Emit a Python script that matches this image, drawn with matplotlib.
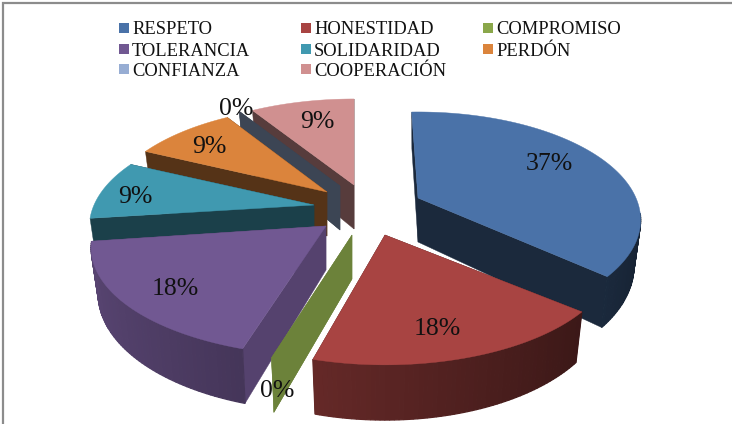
import numpy as np
import matplotlib
matplotlib.use("Agg")
import matplotlib.pyplot as plt
from matplotlib.patches import Rectangle

categories = ["RESPETO", "HONESTIDAD", "COMPROMISO", "TOLERANCIA",
              "SOLIDARIDAD", "PERDÓN", "CONFIANZA", "COOPERACIÓN"]
values = [37, 18, 0, 18, 9, 9, 0, 9]
colors = ["#4A72A8", "#A84442", "#8AA74A", "#715892",
          "#4099B0", "#DB843C", "#97ADD3", "#D09090"]

# layout / style constants
apex_offset = [(68, -7), (35, 30), (2, 30), (-24, 21),
               (-36, 0), (-23, -13), (-10, -19), (4, -20)]   # slice explosion, px
CENTER = (350, 205)
rim_rx = [218, 224, 222, 230, 220, 218, 220, 222]
slice_rot = [-2, -3, -1, -1, 0, 0, 0, 0]
wall_shade = [.36, .45, .78, .75, .42, .39, .40, .42]
draw_order = [7, 6, 5, 4, 3, 0, 2, 1]
label_pos = [(549, 164), (437, 329), (277, 391), (175, 289),
             (135, 197), (209, 147), (236, 109), (317, 122)]
RY, P, DEPTH, BOTTOM_SCALE = 103.5, .203, 44, .97

plt.rcParams["font.family"] = ["Liberation Serif", "DejaVu Serif"]
fig = plt.figure(figsize=(7.32, 4.24), dpi=100)
ax = fig.add_axes([0, 0, 1, 1])
ax.set_xlim(0, 732)
ax.set_ylim(424, 0)
ax.axis("off")


def proj(theta, rx):
    """Project outer-rim angles (degrees, clockwise from the back) to pixel offsets."""
    t = np.radians(theta)
    X, Y = np.sin(t), np.cos(t)
    w = 1 / (1 + P * Y)
    return rx * X * w, -RY * Y * w, w, X, Y


def shade(c, s):
    return tuple(min(1, v * s) for v in matplotlib.colors.to_rgb(c))


edges = np.concatenate([[0], np.cumsum(values)]) * 3.6
for i in draw_order:
    a0, a1 = edges[i] + slice_rot[i], edges[i + 1] + slice_rot[i]
    ax0, ay0 = CENTER[0] + apex_offset[i][0], CENTER[1] + apex_offset[i][1]
    c = colors[i]
    z = 2 + draw_order.index(i)
    th = np.linspace(a0, a1, max(2, int(a1 - a0) + 2))
    sx, sy, w, X, Y = proj(th, rim_rx[i])
    px, py = ax0 + sx, ay0 + sy
    bx = ax0 + sx * BOTTOM_SCALE
    by = py + DEPTH * w
    wc = shade(c, wall_shade[i])
    # radial walls
    for k in (0, -1):
        ax.fill([ax0, px[k], bx[k], ax0],
                [ay0, py[k], by[k], ay0 + DEPTH],
                color=wc, lw=0.3, zorder=z)
    if a1 > a0:
        # rim wall: only the part that faces the viewer
        for k in range(len(th) - 1):
            if Y[k] < -0.15 or Y[k + 1] < -0.15:
                col = shade(c, .54 - .24 * X[k])
                ax.fill([px[k], px[k + 1], bx[k + 1], bx[k]],
                        [py[k], py[k + 1], by[k + 1], by[k]],
                        color=col, lw=0.9, zorder=z)
        # top face
        ax.fill(np.r_[ax0, px], np.r_[ay0, py], color=c, lw=0.3, zorder=z)

for v, (x, y) in zip(values, label_pos):
    ax.text(x, y, f"{v}%", fontsize=18.5, color="#111111", ha="center",
            va="center", zorder=30)

# legend
col_x = [119, 301, 483]
row_y = [28, 49, 69]
for i, name in enumerate(categories):
    x, y = col_x[i % 3], row_y[i // 3]
    ax.add_patch(Rectangle((x, y - 5), 10, 10, color=colors[i], lw=0, zorder=31))
    ax.text(x + 13, y, name, fontsize=13.3, color="#111111", va="center_baseline",
            ha="left", zorder=31)

# frame (left and top only)
ax.plot([3, 3, 732], [424, 3, 3], color="#8C8C8C", lw=1.6,
        solid_joinstyle="miter", zorder=40)
fig.savefig("out.png", dpi=100)
